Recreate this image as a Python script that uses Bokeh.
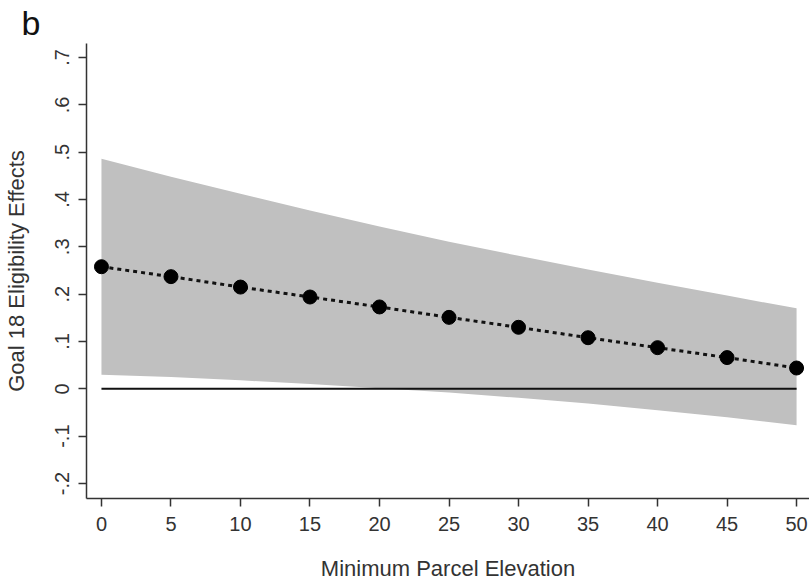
from bokeh.plotting import figure
from bokeh.models import FixedTicker, Range1d
from bokeh.embed import file_html
from bokeh.resources import INLINE

# Data
elevation = [0, 5, 10, 15, 20, 25, 30, 35, 40, 45, 50]
effect = [0.258, 0.237, 0.215, 0.194, 0.173, 0.151, 0.130, 0.108, 0.087, 0.066, 0.044]
ci_upper = [0.486, 0.448, 0.412, 0.377, 0.343, 0.311, 0.281, 0.252, 0.224, 0.197, 0.170]
ci_lower = [0.030, 0.025, 0.018, 0.010, 0.001, -0.008, -0.019, -0.031, -0.045, -0.060, -0.077]
zero_x = [0, 50]
zero_y = [0, 0]

x_ticks = [0, 5, 10, 15, 20, 25, 30, 35, 40, 45, 50]
y_ticks = [-0.2, -0.1, 0, 0.1, 0.2, 0.3, 0.4, 0.5, 0.6, 0.7]
y_tick_labels = ["-.2", "-.1", "0", ".1", ".2", ".3", ".4", ".5", ".6", ".7"]

FONT = "Liberation Sans"
TXT = "#333333"

p = figure(width=809, height=584, output_backend="svg", toolbar_location=None,
           x_range=Range1d(-1.076, 50.93), y_range=Range1d(-0.2317, 0.7296),
           min_border_left=84, min_border_right=0, min_border_top=43, min_border_bottom=86)
p.outline_line_color = None
p.xgrid.grid_line_color = None
p.ygrid.grid_line_color = None
p.background_fill_color = "white"

p.title.text = "b"
p.title.text_font = FONT
p.title.text_font_size = "34px"
p.title.text_font_style = "normal"
p.title.text_color = "#111111"
p.title.align = "left"
p.title.offset = -65
p.title.standoff = 3

p.varea(x=elevation, y1=ci_lower, y2=ci_upper, fill_color="#c0c0c0", fill_alpha=1.0)
p.line(zero_x, zero_y, line_color="#111111", line_width=2)
p.line(elevation, effect, line_color="#111111", line_width=3, line_dash="4 4")
p.scatter(elevation, effect, size=14, fill_color="black", line_color="black", marker="circle")

for ax in (p.xaxis[0], p.yaxis[0]):
    ax.axis_line_color = TXT
    ax.axis_line_width = 1.5
    ax.major_tick_line_color = TXT
    ax.major_tick_line_width = 1.5
    ax.major_tick_out = 8
    ax.major_tick_in = 0
    ax.minor_tick_line_color = None
    ax.major_label_text_font = FONT
    ax.major_label_text_font_size = "20px"
    ax.major_label_text_color = TXT
    ax.axis_label_text_font = FONT
    ax.axis_label_text_font_size = "22px"
    ax.axis_label_text_font_style = "normal"
    ax.axis_label_text_color = TXT

p.xaxis.ticker = FixedTicker(ticks=x_ticks)
p.xaxis.axis_label = "Minimum Parcel Elevation"
p.xaxis.major_label_standoff = 10
p.xaxis.axis_label_standoff = 22

p.yaxis.ticker = FixedTicker(ticks=y_ticks)
p.yaxis.major_label_overrides = dict(zip(y_ticks, y_tick_labels))
p.yaxis.major_label_orientation = "vertical"
p.yaxis.axis_label = "Goal 18 Eligibility Effects"
p.yaxis.major_label_standoff = 9
p.yaxis.axis_label_standoff = 24

open("out.html", "w").write(file_html(p, INLINE))
